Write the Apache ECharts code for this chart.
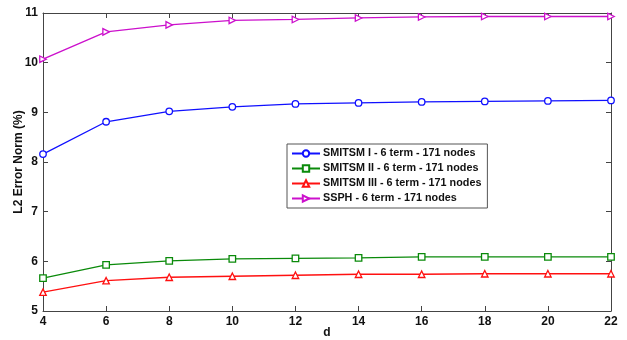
<!DOCTYPE html>
<html>
<head>
<meta charset="utf-8">
<script src="https://cdn.jsdelivr.net/npm/echarts@6/dist/echarts.min.js"></script>
<style>
  html, body { margin: 0; padding: 0; background: #fff; }
  #chart { width: 627px; height: 340px; }
</style>
</head>
<body>
<div id="chart"></div>
<script>
// 数据
const dValues = [4, 6, 8, 10, 12, 14, 16, 18, 20, 22];
const smitsm1 = [8.16, 8.81, 9.02, 9.11, 9.17, 9.19, 9.21, 9.22, 9.23, 9.24];
const smitsm2 = [5.66, 5.93, 6.01, 6.05, 6.06, 6.07, 6.09, 6.09, 6.09, 6.09];
const smitsm3 = [5.38, 5.61, 5.68, 5.70, 5.72, 5.74, 5.74, 5.75, 5.75, 5.75];
const ssph    = [10.07, 10.62, 10.76, 10.85, 10.87, 10.90, 10.92, 10.93, 10.93, 10.93];
const seriesNames = [
    'SMITSM I - 6 term - 171 nodes',
    'SMITSM II - 6 term - 171 nodes',
    'SMITSM III - 6 term - 171 nodes',
    'SSPH - 6 term - 171 nodes'
];

const font = 'Liberation Sans, Arial, sans-serif';
const chart = echarts.init(document.getElementById('chart'));

function pairs(ys) {
    return dValues.map((d, i) => [d, ys[i]]);
}

function makeSeries(name, ys, color, symbol, rotate) {
    return {
        name: name,
        type: 'line',
        data: pairs(ys),
        symbol: symbol,
        symbolSize: 6.5,
        symbolRotate: rotate || 0,
        showAllSymbol: true,
        lineStyle: { color: color, width: 1.3 },
        itemStyle: { color: '#fff', borderColor: color, borderWidth: 1.3 },
        emphasis: { disabled: true },
        animation: false
    };
}

// 坐标轴公共样式
const axisLine = { show: true, lineStyle: { color: '#444', width: 1 } };
const tickStyle = { show: true, inside: true, length: 5, lineStyle: { color: '#444' } };

chart.setOption({
    backgroundColor: '#fff',
    animation: false,
    grid: { left: 43, right: 16, top: 13, bottom: 29, show: false, outerBoundsMode: 'none', containLabel: false },
    legend: {
        orient: 'vertical',
        left: 287,
        top: 144,
        itemGap: 4,
        itemWidth: 28,
        itemHeight: 8,
        padding: [4, 6, 4, 4],
        borderColor: '#555',
        borderWidth: 1,
        backgroundColor: '#fff',
        textStyle: { fontFamily: font, fontWeight: 'bold', fontSize: 10.8, color: '#111', padding: [0, 0, 0, -2] },
        data: seriesNames
    },
    xAxis: [{
        type: 'value',
        min: 4, max: 22, interval: 2,
        name: 'd',
        nameLocation: 'middle',
        nameGap: 16,
        nameMoveOverlap: false,
        nameTextStyle: { fontFamily: font, fontWeight: 'bold', fontSize: 12, color: '#111' },
        axisLine: axisLine,
        axisTick: tickStyle,
        splitLine: { show: false },
        axisLabel: { fontFamily: font, fontWeight: 'bold', fontSize: 12, color: '#111', margin: 5 }
    }, {
        type: 'value', position: 'top',
        min: 4, max: 22, interval: 2,
        axisLine: axisLine,
        axisTick: tickStyle,
        splitLine: { show: false },
        axisLabel: { show: false }
    }],
    yAxis: [{
        type: 'value',
        min: 5, max: 11, interval: 1,
        name: 'L2 Error Norm (%)',
        nameLocation: 'middle',
        nameGap: 18,
        nameMoveOverlap: false,
        nameTextStyle: { fontFamily: font, fontWeight: 'bold', fontSize: 12, color: '#111' },
        axisLine: axisLine,
        axisTick: tickStyle,
        splitLine: { show: false },
        axisLabel: { fontFamily: font, fontWeight: 'bold', fontSize: 12, color: '#111', margin: 5 }
    }, {
        type: 'value', position: 'right',
        min: 5, max: 11, interval: 1,
        axisLine: axisLine,
        axisTick: tickStyle,
        splitLine: { show: false },
        axisLabel: { show: false }
    }],
    series: [
        makeSeries(seriesNames[0], smitsm1, '#1010ff', 'circle'),
        makeSeries(seriesNames[1], smitsm2, '#0a8a0a', 'rect'),
        makeSeries(seriesNames[2], smitsm3, '#ff1010', 'triangle'),
        makeSeries(seriesNames[3], ssph, '#cc10cc', 'triangle', -90)
    ]
});
</script>
</body>
</html>
